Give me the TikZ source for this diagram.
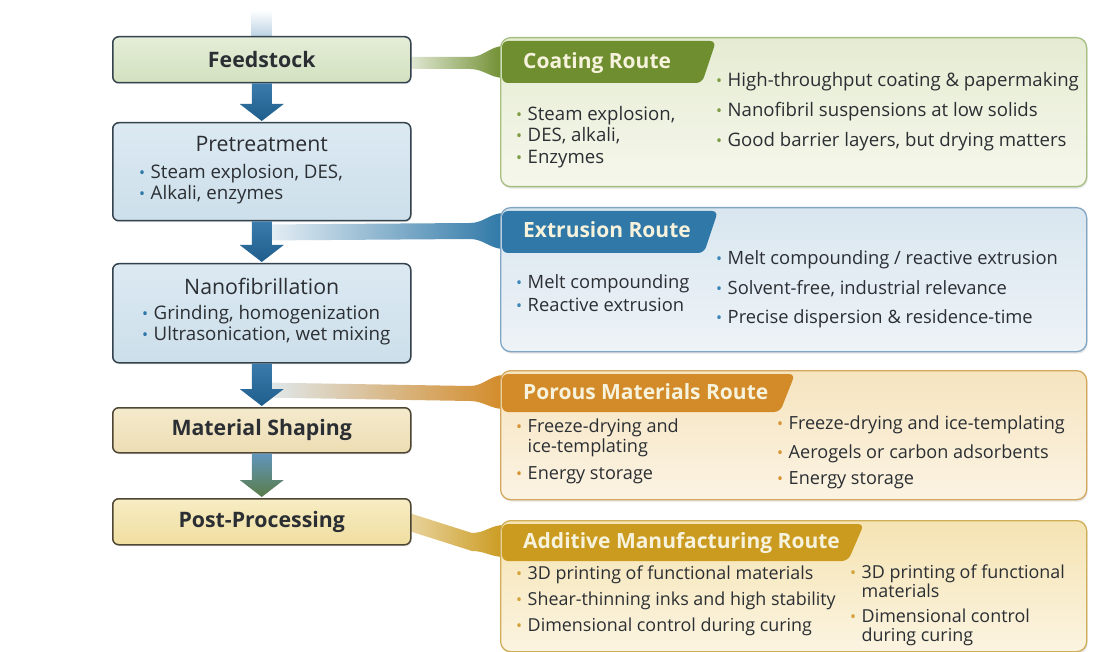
\documentclass[tikz,border=0pt]{standalone}
\usepackage{fontspec}
\setmainfont{Open Sans}
\usetikzlibrary{positioning, calc, shadows, backgrounds}

\definecolor{inkdark}{HTML}{2B2F33}
\definecolor{stageline}{HTML}{34424E}
\definecolor{tanline}{HTML}{4E4635}
\definecolor{arrowtop}{HTML}{3A7BAB}
\definecolor{arrowbot}{HTML}{1F5E8C}
\definecolor{arrowgreen}{HTML}{5A7C48}
\definecolor{inflowblue}{HTML}{BDD3E4}
\definecolor{feedtop}{HTML}{E4EDD8}
\definecolor{feedbot}{HTML}{D3E1BF}
\definecolor{bluetop}{HTML}{DCE9F2}
\definecolor{bluebot}{HTML}{CCDFEA}
\definecolor{tantop}{HTML}{F4EACD}
\definecolor{tanbot}{HTML}{EDDDB3}
\definecolor{goldtop}{HTML}{F7EDC4}
\definecolor{goldbot}{HTML}{F0DEA0}
\definecolor{coatgreen}{HTML}{6F8E30}
\definecolor{extblue}{HTML}{2F78A7}
\definecolor{porousorange}{HTML}{D38B29}
\definecolor{addgold}{HTML}{CB9B20}
\definecolor{headcream}{HTML}{F6F2DC}
\definecolor{coatline}{HTML}{A6BE7F}
\definecolor{coattop}{HTML}{E5ECD2}
\definecolor{coatbot}{HTML}{F6F7EC}
\definecolor{extline}{HTML}{80A6C4}
\definecolor{exttop}{HTML}{D9E6EF}
\definecolor{extbot}{HTML}{EEF3F7}
\definecolor{porline}{HTML}{D3A85E}
\definecolor{portop}{HTML}{F6E4BF}
\definecolor{porbot}{HTML}{FBF3E3}
\definecolor{addline}{HTML}{D0AE57}
\definecolor{addtop}{HTML}{F5E3B2}
\definecolor{addbot}{HTML}{FBF4E1}
\definecolor{coatdot}{HTML}{7E9C44}
\definecolor{extdot}{HTML}{3C86B8}
\definecolor{pordot}{HTML}{D89433}
\definecolor{adddot}{HTML}{D3A239}
\definecolor{stagedot}{HTML}{2F77A8}

\newcommand{\titlesize}{\fontsize{21.3}{25}\selectfont}
\newcommand{\dotb}[2]{\ifnum#2=1 \makebox[11.5pt][l]{\textcolor{#1}{\raisebox{0.6pt}{\fontsize{16}{16}\selectfont\textbullet}}}\else\hspace*{11.5pt}\fi}
\newcommand{\routetab}[5]{\fill[#5, rounded corners=6pt]
  ([xshift=2pt,yshift=-4pt]#1.north west) -- ([xshift=#2pt,yshift=-4pt]#1.north west)
  -- ([xshift=#3pt,yshift=-#4pt]#1.north west) -- ([xshift=2pt,yshift=-#4pt]#1.north west) -- cycle;}
\newcommand{\fatarrow}[4]{\shade[top color=#3, bottom color=#4]
  ([xshift=-10pt]#1.south) -- ([xshift=-10pt,yshift=18pt]#2.north) -- ([xshift=-22pt,yshift=18pt]#2.north)
  -- ([yshift=1pt]#2.north) -- ([xshift=22pt,yshift=18pt]#2.north) -- ([xshift=10pt,yshift=18pt]#2.north)
  -- ([xshift=10pt]#1.south) -- cycle;}

\begin{document}
\begin{tikzpicture}[
    x=1pt, y=-1pt,
    stage/.style={draw=stageline, line width=1.5pt, rounded corners=6pt, anchor=north west, minimum width=298pt, inner sep=0pt, text=inkdark, font=\titlesize, drop shadow={shadow xshift=1pt, shadow yshift=-1.5pt, opacity=0.15}},
    route/.style={rounded corners=10pt, line width=1.3pt, anchor=north west, minimum width=586pt, inner sep=0pt, drop shadow={shadow xshift=1pt, shadow yshift=-2pt, opacity=0.2}},
    title/.style={font=\titlesize, text=inkdark, inner sep=0pt, text height=14pt, text depth=0pt},
    routehead/.style={font=\fontsize{21}{25}\selectfont\bfseries, text=headcream, anchor=west, inner sep=0pt, text height=14pt, text depth=0pt},
    item/.style={font=\fontsize{#1}{22}\selectfont, text=inkdark, anchor=mid west, inner sep=0pt},
    item/.default=18
]

\useasboundingbox (0,0) rectangle (1119,652);

% Process stages
\node[stage, minimum height=46pt, top color=feedtop, bottom color=feedbot, font=\titlesize\bfseries] (feed) at (112,36) {Feedstock};
\node[stage, minimum height=98pt, top color=bluetop, bottom color=bluebot] (pre) at (112,122) {};
\node[stage, minimum height=99pt, top color=bluetop, bottom color=bluebot] (nano) at (112,263) {};
\node[stage, minimum height=45pt, draw=tanline, top color=tantop, bottom color=tanbot, font=\titlesize\bfseries] (shape) at (112,407) {Material Shaping};
\node[stage, minimum height=46pt, draw=tanline, top color=goldtop, bottom color=goldbot, font=\titlesize\bfseries] (post) at (112,498) {Post-Processing};

\node[title] (pretitle) at ([yshift=-23pt]pre.north) {Pretreatment};
\node[item=18.7] (prei1) at (139,176) {\dotb{stagedot}{1}Steam explosion, DES,};
\node[item=18.7] (prei2) at (139,197) {\dotb{stagedot}{1}Alkali, enzymes};
\node[title] (nanotitle) at ([yshift=-25pt]nano.north) {Nanofibrillation};
\node[item=18.7] (nanoi1) at (142,317) {\dotb{stagedot}{1}Grinding, homogenization};
\node[item=18.7] (nanoi2) at (142,338) {\dotb{stagedot}{1}Ultrasonication, wet mixing};

% Route boxes
\node[route, draw=coatline, top color=coattop, bottom color=coatbot, minimum height=149pt] (coat) at (500,37) {};
\node[route, draw=extline, top color=exttop, bottom color=extbot, minimum height=144pt] (ext) at (500,207) {};
\node[route, draw=porline, top color=portop, bottom color=porbot, minimum height=129pt] (por) at (500,370) {};
\node[route, draw=addline, top color=addtop, bottom color=addbot, minimum height=131pt] (add) at (500,520) {};

\routetab{coat}{216}{202}{46}{coatgreen}
\routetab{ext}{218}{204}{46}{extblue}
\routetab{por}{295}{280}{42}{porousorange}
\routetab{add}{364}{348}{41}{addgold}

\node[routehead] (coathd) at ([xshift=23pt,yshift=-25pt]coat.north west) {Coating Route};
\node[routehead] (exthd) at ([xshift=23pt,yshift=-24pt]ext.north west) {Extrusion Route};
\node[routehead] (porhd) at ([xshift=23pt,yshift=-22pt]por.north west) {Porous Materials Route};
\node[routehead] (addhd) at ([xshift=23pt,yshift=-21pt]add.north west) {Additive Manufacturing Route};

% Route items
\foreach \y/\t [count=\i] in {118/{Steam explosion,}, 139/{DES, alkali,}, 161/Enzymes}
  \node[item=18.6] (coatl\i) at (516,\y) {\dotb{coatdot}{1}\t};
\foreach \y/\t [count=\i] in {84/{High-throughput coating \& papermaking}, 114/Nanofibril suspensions at low solids, 144/{Good barrier layers, but drying matters}}
  \node[item=18.6] (coatr\i) at (716,\y) {\dotb{coatdot}{1}\t};
\foreach \y/\t [count=\i] in {286/Melt compounding, 309/Reactive extrusion}
  \node[item=18.35] (extl\i) at (516,\y) {\dotb{extdot}{1}\t};
\foreach \y/\t [count=\i] in {262/{Melt compounding / reactive extrusion}, 292/{Solvent-free, industrial relevance}, 321/Precise dispersion \& residence-time}
  \node[item=18.35] (extr\i) at (716,\y) {\dotb{extdot}{1}\t};
\foreach \y/\f/\t [count=\i] in {430/1/Freeze-drying and, 450/0/ice-templating, 477/1/Energy storage}
  \node[item=18.1] (porl\i) at (516,\y) {\dotb{pordot}{\f}\t};
\foreach \y/\t [count=\i] in {427/Freeze-drying and ice-templating, 456/Aerogels or carbon adsorbents, 482/Energy storage}
  \node[item=18.1] (porr\i) at (777,\y) {\dotb{pordot}{1}\t};
\foreach \y/\t [count=\i] in {577/3D printing of functional materials, 603/Shear-thinning inks and high stability, 629/Dimensional control during curing}
  \node[item=17.9] (addl\i) at (516,\y) {\dotb{adddot}{1}\t};
\foreach \y/\f/\t [count=\i] in {576/1/3D printing of functional, 595/0/materials, 620/1/Dimensional control, 639/0/during curing}
  \node[item=17.9] (addr\i) at (850,\y) {\dotb{adddot}{\f}\t};

% Band ends
\coordinate (inflow) at (261,10);
\coordinate (coatin) at (coat.west |- coathd);
\coordinate (extout) at ([yshift=-11pt]pre.south);
\coordinate (extin) at (ext.west |- exthd);
\coordinate (porout) at ([yshift=-26pt]nano.south);
\coordinate (porin) at (por.west |- porhd);
\coordinate (addin) at (add.west |- addhd);

% Bands to the routes
\begin{scope}[on background layer]
\fill[white] (0,0) rectangle (1119,652);
\shade[top color=white, bottom color=inflowblue] ([xshift=-10pt]inflow) rectangle ([xshift=10pt]feed.north);
\shade[left color=coatgreen!22, right color=coatgreen]
  ([yshift=3pt]feed.east) -- ([xshift=-30pt,yshift=5pt]coatin) to[out=0,in=180] ([xshift=4pt,yshift=16pt]coatin)
  -- ([xshift=4pt,yshift=-16pt]coatin) to[out=180,in=0] ([xshift=-30pt,yshift=-7pt]coatin) -- ([yshift=-9pt]feed.east) -- cycle;
\shade[left color=extblue!10, middle color=extblue!35, right color=extblue]
  ([yshift=8pt]extout) -- ([xshift=-30pt,yshift=8pt]extin) to[out=0,in=180] ([xshift=4pt,yshift=18pt]extin)
  -- ([xshift=4pt,yshift=-18pt]extin) to[out=180,in=0] ([xshift=-30pt,yshift=-8pt]extin) -- ([yshift=-8pt]extout) -- cycle;
\shade[left color=extblue!15, middle color=extblue!22, right color=porousorange]
  ([yshift=7pt]porout) -- ([xshift=-30pt,yshift=6pt]porin) to[out=0,in=180] ([xshift=4pt,yshift=17pt]porin)
  -- ([xshift=4pt,yshift=-17pt]porin) to[out=180,in=0] ([xshift=-30pt,yshift=-9pt]porin) -- ([yshift=-8pt]porout) -- cycle;
\shade[left color=addgold!45, right color=addgold]
  ([yshift=8pt]post.east) -- ([xshift=-28pt,yshift=8pt]addin) to[out=0,in=180] ([xshift=4pt,yshift=16pt]addin)
  -- ([xshift=4pt,yshift=-16pt]addin) to[out=180,in=0] ([xshift=-28pt,yshift=-10pt]addin) -- ([yshift=-10pt]post.east) -- cycle;
\end{scope}

% Stage arrows
\fatarrow{feed}{pre}{arrowtop}{arrowbot}
\fatarrow{pre}{nano}{arrowtop}{arrowbot}
\fatarrow{nano}{shape}{arrowtop}{arrowbot}
\fatarrow{shape}{post}{arrowtop!80}{arrowgreen}

\end{tikzpicture}
\end{document}
